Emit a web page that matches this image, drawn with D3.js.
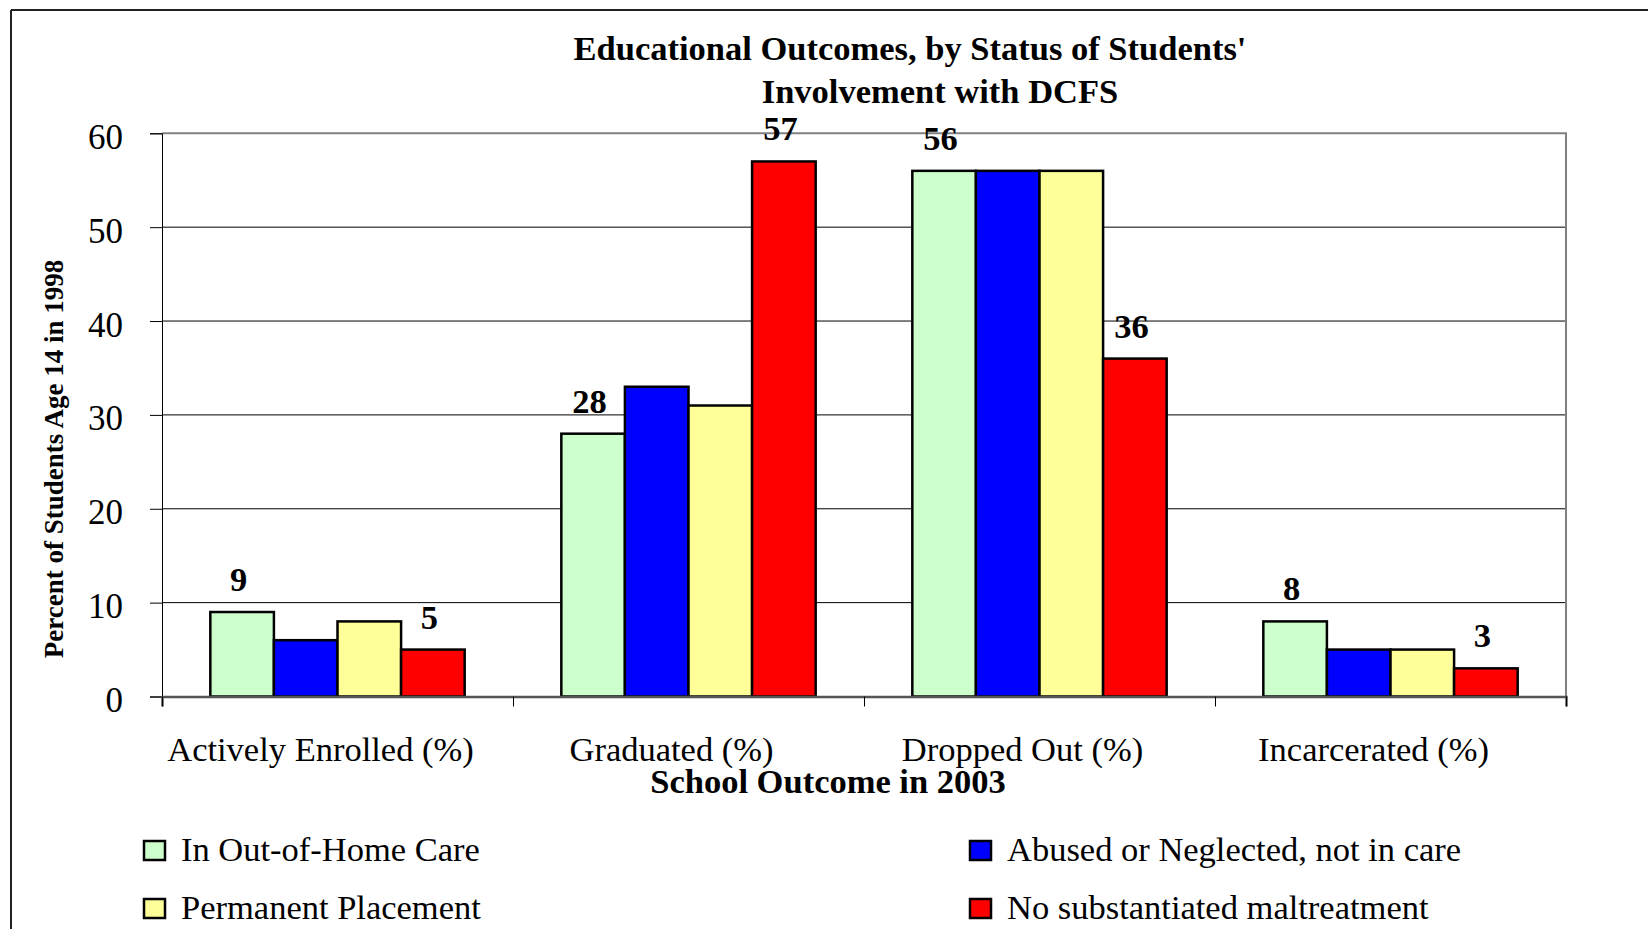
<!DOCTYPE html>
<html>
<head>
<meta charset="utf-8">
<script src="https://cdn.jsdelivr.net/npm/d3@7"></script>
<style>
  html, body { margin: 0; padding: 0; background: #fff; }
  svg { display: block; }
  text { font-family: "Liberation Serif", "Times New Roman", serif; fill: #000; }
</style>
</head>
<body>
<svg id="chart" width="1648" height="929"></svg>
<script>
// ---- data ----
const categories = ["Actively Enrolled (%)", "Graduated (%)", "Dropped Out (%)", "Incarcerated (%)"];
const seriesNames = ["In Out-of-Home Care", "Abused or Neglected, not in care", "Permanent Placement", "No substantiated maltreatment"];
const outOfHomeCare = [9, 28, 56, 8];
const abusedNotInCare = [6, 33, 56, 5];
const permanentPlacement = [8, 31, 56, 5];
const noMaltreatment = [5, 57, 36, 3];
const yTicks = [0, 10, 20, 30, 40, 50, 60];
const labelledSeries = [0, 3];
const titleLines = ["Educational Outcomes, by Status of Students'", "Involvement with DCFS"];
const xTitle = "School Outcome in 2003";
const yTitle = "Percent of Students Age 14 in 1998";
const colors = ["#CCFFCC", "#0000FF", "#FFFF99", "#FF0000"];

const seriesValues = [outOfHomeCare, abusedNotInCare, permanentPlacement, noMaltreatment];

// ---- layout ----
const svg = d3.select("#chart");
const plotL = 162, plotR = 1566, plotT = 133.3, plotB = 696.5;

const x0 = d3.scaleBand().domain(categories).range([plotL, plotR]).paddingInner(0).paddingOuter(0);
const x1 = d3.scaleBand().domain(d3.range(seriesNames.length)).range([0, x0.bandwidth()]).paddingInner(0).paddingOuter(0.76);
const y = d3.scaleLinear().domain([0, 60]).range([plotB, plotT]);

// outer border
svg.append("line").attr("x1", 11).attr("x2", 1648).attr("y1", 10).attr("y2", 10).attr("stroke", "#222").attr("stroke-width", 2);
svg.append("line").attr("x1", 11).attr("x2", 11).attr("y1", 10).attr("y2", 929).attr("stroke", "#222").attr("stroke-width", 2);

// gridlines
svg.append("g").selectAll("line").data(yTicks.filter(d => d > 0 && d < 60)).join("line")
  .attr("x1", plotL).attr("x2", plotR).attr("y1", d => y(d)).attr("y2", d => y(d))
  .attr("stroke", "#000").attr("stroke-width", 1);

// plot frame top & right (gray)
svg.append("line").attr("x1", plotL).attr("x2", plotR + 1).attr("y1", y(60)).attr("y2", y(60)).attr("stroke", "#808080").attr("stroke-width", 2);
svg.append("line").attr("x1", plotR).attr("x2", plotR).attr("y1", y(60)).attr("y2", plotB).attr("stroke", "#808080").attr("stroke-width", 2);

// y axis
const yAxis = svg.append("g").attr("transform", `translate(${plotL},0)`)
  .call(d3.axisLeft(y).tickValues(yTicks).tickSize(12).tickPadding(27).tickFormat(d3.format("d")));
yAxis.select(".domain").attr("stroke", "#000").attr("stroke-width", 1);
yAxis.selectAll(".tick line").attr("stroke", "#000").attr("stroke-width", 1);
yAxis.selectAll(".tick text").attr("font-family", "Liberation Serif").attr("font-size", 35).attr("dy", null).attr("y", 15);

// bars
const groups = svg.append("g").selectAll("g").data(categories).join("g")
  .attr("transform", c => `translate(${x0(c)},0)`);
groups.selectAll("rect").data((c, ci) => seriesValues.map((vals, si) => ({ si, v: vals[ci] }))).join("rect")
  .attr("x", d => x1(d.si)).attr("width", x1.bandwidth())
  .attr("y", d => y(d.v)).attr("height", d => y(0) - y(d.v))
  .attr("fill", d => colors[d.si]).attr("stroke", "#000").attr("stroke-width", 2.5);

// value labels
groups.selectAll("text.val").data((c, ci) => labelledSeries.map(si => ({ si, v: seriesValues[si][ci] }))).join("text")
  .attr("class", "val")
  .attr("x", d => x1(d.si) + x1.bandwidth() / 2 - 3.5).attr("y", d => y(d.v) - 21)
  .attr("text-anchor", "middle").attr("font-weight", "bold").attr("font-size", 34.5)
  .text(d => d.v);

// x axis: bottom line with boundary ticks
const xIdx = d3.scaleLinear().domain([0, categories.length]).range([plotL, plotR]);
const xTickAxis = svg.append("g").attr("transform", `translate(0,${plotB})`)
  .call(d3.axisBottom(xIdx).tickValues(d3.range(categories.length + 1)).tickSize(10).tickFormat(""));
xTickAxis.select(".domain").attr("stroke", "#555").attr("stroke-width", 2.5);
xTickAxis.selectAll(".tick line").attr("stroke", "#000").attr("stroke-width", 1);

// x category labels
const xLab = svg.append("g").attr("transform", `translate(0,${plotB})`)
  .call(d3.axisBottom(x0).tickSize(0).tickPadding(0));
xLab.select(".domain").remove();
xLab.selectAll(".tick text").attr("font-family", "Liberation Serif").attr("font-size", 34.5)
  .attr("dy", null).attr("y", 64).attr("x", -17);

// titles
svg.append("text").attr("x", 910).attr("y", 60).attr("text-anchor", "middle").attr("font-weight", "bold").attr("font-size", 34.5).text(titleLines[0]);
svg.append("text").attr("x", 940).attr("y", 103).attr("text-anchor", "middle").attr("font-weight", "bold").attr("font-size", 34.5).text(titleLines[1]);
svg.append("text").attr("x", 828).attr("y", 793).attr("text-anchor", "middle").attr("font-weight", "bold").attr("font-size", 34.5).text(xTitle);
svg.append("text").attr("transform", "translate(63,459) rotate(-90)").attr("text-anchor", "middle").attr("font-weight", "bold").attr("font-size", 27).text(yTitle);

// legend
const legendPos = [[143, 840], [969, 840], [143, 898], [969, 898]];
const leg = svg.append("g").selectAll("g").data(seriesNames).join("g")
  .attr("transform", (d, i) => `translate(${legendPos[i][0]},${legendPos[i][1]})`);
leg.append("rect").attr("x", 1).attr("y", 1).attr("width", 21).attr("height", 19)
  .attr("fill", (d, i) => colors[i]).attr("stroke", "#000").attr("stroke-width", 2.5);
leg.append("text").attr("x", 38).attr("y", 21).attr("font-size", 34.5).text(d => d);
</script>
</body>
</html>
